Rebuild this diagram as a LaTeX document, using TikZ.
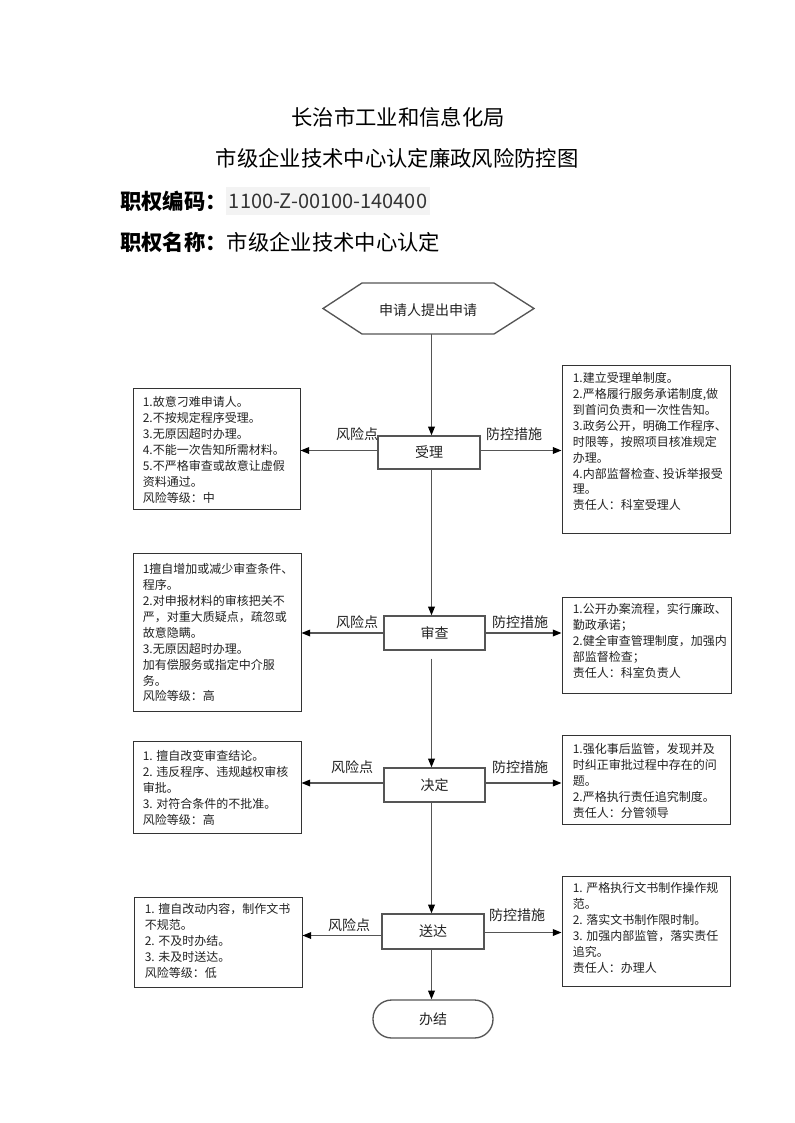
\documentclass[tikz,border=0pt]{standalone}
\usepackage{fontspec}
\newfontfamily\cjk{Noto Sans CJK SC}
\usetikzlibrary{arrows.meta,fit}
\definecolor{flowc}{HTML}{555555}
\definecolor{boxc}{HTML}{333333}
\definecolor{txtc}{HTML}{222222}
\definecolor{codebg}{HTML}{F3F3F3}
\begin{document}
\begin{tikzpicture}[x=0.75pt,y=-0.75pt,
  riskbox/.style={draw=boxc, line width=0.75pt, inner sep=0pt},
  boxtext/.style={anchor=north west, inner sep=0pt, align=left, text=txtc, font=\cjk\fontsize{9}{11.9}\selectfont},
  stepbox/.style={draw=flowc, line width=1pt, inner sep=0pt, font=\cjk\fontsize{10.5}{12}\selectfont},
  flow/.style={draw=flowc, line width=1pt, -{Triangle[length=6.5pt,width=5pt,color=black]}},
  lbl/.style={font=\cjk\fontsize{10.5}{12}\selectfont, inner sep=0pt, text=txtc},
  titlet/.style={font=\cjk\fontsize{16}{18}\selectfont, inner sep=0pt}]
\useasboundingbox (0,0) rectangle (794,1123);
\fill[white] (0,0) rectangle (794,1123);

% titles
\node[titlet] (t1) at (398,117) {长治市工业和信息化局};
\node[titlet] (t2) at (397,158) {市级企业技术中心认定廉政风险防控图};
\node[titlet, anchor=west] (t3) at (120,201) {\bfseries 职权编码：};
\node[titlet, anchor=west, fill=codebg, inner xsep=2pt, inner ysep=5pt, text=black!80, font=\cjk\fontsize{15}{18}\selectfont] (t3b) at (226,201) {1100-Z-00100-140400};
\node[titlet, anchor=west] (t4) at (120,242) {{\bfseries 职权名称：}市级企业技术中心认定};

% start hexagon
\draw[draw=flowc, line width=1pt] (323,308.5) -- (362,283) -- (494,283) -- (534,308.5) -- (494,334) -- (362,334) -- cycle;
\node[lbl] (H) at (428,310) {申请人提出申请};
\coordinate (Hb) at (431.5,334);

% step boxes
\path (378,436) coordinate (s1a) (480,469) coordinate (s1b);
\node[stepbox, fit=(s1a)(s1b)] (S1) {};
\node[lbl] at (S1) {受理};
\path (384,616) coordinate (s2a) (485,650) coordinate (s2b);
\node[stepbox, fit=(s2a)(s2b)] (S2) {};
\node[lbl] at (S2) {审查};
\path (384,768) coordinate (s3a) (485,802) coordinate (s3b);
\node[stepbox, fit=(s3a)(s3b)] (S3) {};
\node[lbl] at (S3) {决定};
\path (382,914) coordinate (s4a) (484,949) coordinate (s4b);
\node[stepbox, fit=(s4a)(s4b)] (S4) {};
\node[lbl] at (S4) {送达};
\path (373,1000) coordinate (s5a) (493,1038) coordinate (s5b);
\node[stepbox, fit=(s5a)(s5b), rounded corners=14pt] (S5) {};
\node[lbl] at (S5) {办结};

% risk boxes left
\path (133,388) coordinate (l1a) (300,509) coordinate (l1b);
\node[riskbox, fit=(l1a)(l1b)] (L1) {};
\node[boxtext] (L1t) at ([shift={(10,9)}]L1.north west) {1.故意刁难申请人。\\2.不按规定程序受理。\\3.无原因超时办理。\\4.不能一次告知所需材料。\\5.不严格审查或故意让虚假\\资料通过。\\风险等级：中};

\path (133,553) coordinate (l2a) (301,711) coordinate (l2b);
\node[riskbox, fit=(l2a)(l2b)] (L2) {};
\node[boxtext] (L2t) at ([shift={(10,11)}]L2.north west) {1擅自增加或减少审查条件、\\程序。\\2.对申报材料的审核把关不\\严，对重大质疑点，疏忽或\\故意隐瞒。\\3.无原因超时办理。\\加有偿服务或指定中介服\\务。\\风险等级：高};

\path (133,741) coordinate (l3a) (301,833) coordinate (l3b);
\node[riskbox, fit=(l3a)(l3b)] (L3) {};
\node[boxtext] (L3t) at ([shift={(10,10)}]L3.north west) {1. 擅自改变审查结论。\\2. 违反程序、违规越权审核\\审批。\\3. 对符合条件的不批准。\\风险等级：高};

\path (134,897) coordinate (l4a) (302,987) coordinate (l4b);
\node[riskbox, fit=(l4a)(l4b)] (L4) {};
\node[boxtext] (L4t) at ([shift={(11,7)}]L4.north west) {1. 擅自改动内容，制作文书\\不规范。\\2. 不及时办结。\\3. 未及时送达。\\风险等级：低};

% measure boxes right
\path (562,365) coordinate (r1a) (730,533) coordinate (r1b);
\node[riskbox, fit=(r1a)(r1b)] (R1) {};
\node[boxtext] (R1t) at ([shift={(11,8)}]R1.north west) {1.建立受理单制度。\\2.严格履行服务承诺制度,做\\到首问负责和一次性告知。\\3.政务公开，明确工作程序、\\时限等，按照项目核准规定\\办理。\\4.内部监督检查、\hspace{-3pt}投诉举报受\\理。\\责任人：科室受理人};

\path (562,597) coordinate (r2a) (731,693) coordinate (r2b);
\node[riskbox, fit=(r2a)(r2b)] (R2) {};
\node[boxtext] (R2t) at ([shift={(11,7)}]R2.north west) {1.公开办案流程，实行廉政、\\勤政承诺；\\2.健全审查管理制度，加强内\\部监督检查；\\责任人：科室负责人};

\path (562,735) coordinate (r3a) (730,824) coordinate (r3b);
\node[riskbox, fit=(r3a)(r3b)] (R3) {};
\node[boxtext] (R3t) at ([shift={(11,9)}]R3.north west) {1.强化事后监管，发现并及\\时纠正审批过程中存在的问\\题。\\2.严格执行责任追究制度。\\责任人：分管领导};

\path (562,876) coordinate (r4a) (730,986) coordinate (r4b);
\node[riskbox, fit=(r4a)(r4b)] (R4) {};
\node[boxtext] (R4t) at ([shift={(11,7)}]R4.north west) {1. 严格执行文书制作操作规\\范。\\2. 落实文书制作限时制。\\3. 加强内部监管，落实责任\\追究。\\责任人：办理人};

% spine connectors
\draw[flow] (Hb) -- (Hb |- S1.north);
\draw[flow] (Hb |- S1.south) -- (Hb |- S2.north);
\draw[flow] ([shift={(0,8)}]Hb |- S2.south) -- (Hb |- S3.north);
\draw[flow] (Hb |- S3.south) -- (Hb |- S4.north);
\draw[flow] (Hb |- S4.south) -- (Hb |- S5.north);

% side connectors
\draw[flow] ([shift={(0,-2)}]S1.west) -- ([shift={(0,-2)}]S1.west -| L1.east);
\draw[flow] ([shift={(0,-2)}]S1.east) -- ([shift={(0,-2)}]S1.east -| R1.west);
\draw[flow] (S2.west) -- (S2.west -| L2.east);
\draw[flow] (S2.east) -- (S2.east -| R2.west);
\draw[flow] ([shift={(0,-2)}]S3.west) -- ([shift={(0,-2)}]S3.west -| L3.east);
\draw[flow] ([shift={(0,-2)}]S3.east) -- ([shift={(0,-2)}]S3.east -| R3.west);
\draw[flow] ([shift={(0,4)}]S4.west) -- ([shift={(0,4)}]S4.west -| L4.east);
\draw[flow] ([shift={(0,1)}]S4.east) -- ([shift={(0,1)}]S4.east -| R4.west);

% labels
\node[lbl] (k1) at (357,434) {风险点};
\node[lbl] (m1) at (514,434) {防控措施};
\node[lbl] (k2) at (357,622) {风险点};
\node[lbl] (m2) at (520,622) {防控措施};
\node[lbl] (k3) at (352,767) {风险点};
\node[lbl] (m3) at (520,767) {防控措施};
\node[lbl] (k4) at (349,925) {风险点};
\node[lbl] (m4) at (517,915) {防控措施};
\end{tikzpicture}
\end{document}
